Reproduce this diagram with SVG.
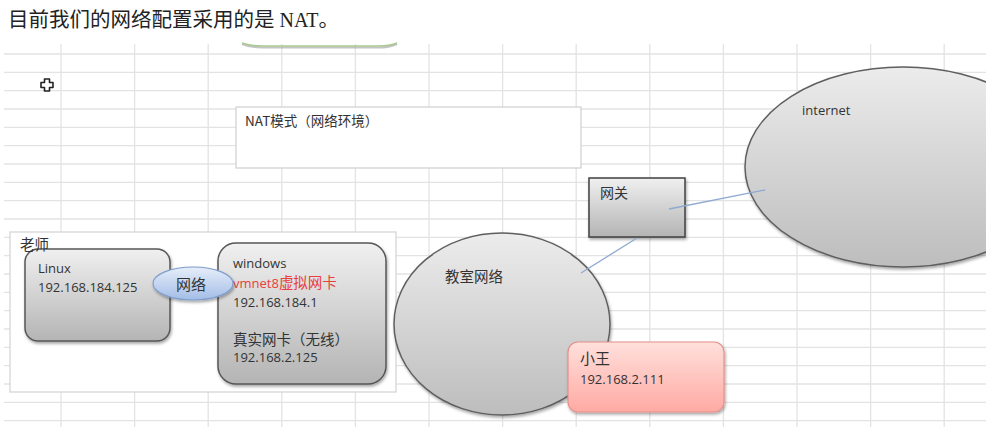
<svg xmlns="http://www.w3.org/2000/svg" width="995" height="433" viewBox="0 0 995 433">
<style>
.grid line{stroke:#e3e3e3;stroke-width:1.3}
.lat{font-family:"Open Sans","Liberation Sans","Noto Sans CJK SC",sans-serif;font-size:13px;fill:#333}
.cjk{font-family:"Noto Sans CJK SC","Noto Sans",sans-serif;font-size:14.5px;fill:#333}
.conn line{stroke:#8eaad2;stroke-width:1.3}
.gbox{fill:url(#gray);stroke:#575757;stroke-width:1.5;filter:url(#sh)}
</style>
<defs>
<linearGradient id="gray" x1="0" y1="0" x2="0" y2="1"><stop offset="0" stop-color="#f0f0f0"/><stop offset="1" stop-color="#b4b4b4"/></linearGradient>
<linearGradient id="grayE" x1="0" y1="0" x2="0" y2="1"><stop offset="0" stop-color="#ececec"/><stop offset="1" stop-color="#bdbdbd"/></linearGradient>
<linearGradient id="blue" x1="0" y1="0" x2="0" y2="1"><stop offset="0" stop-color="#e6eefa"/><stop offset="1" stop-color="#a3bde6"/></linearGradient>
<linearGradient id="pink" x1="0" y1="0" x2="0" y2="1"><stop offset="0" stop-color="#ffe0dc"/><stop offset="1" stop-color="#ffaaa3"/></linearGradient>
<filter id="sh" x="-10%" y="-10%" width="125%" height="130%"><feDropShadow dx="1" dy="2" stdDeviation="1.5" flood-color="#000" flood-opacity="0.35"/></filter>
<clipPath id="clip"><rect x="0" y="0" width="986" height="433"/></clipPath>
</defs>
<rect width="995" height="433" fill="#fff"/>
<g class="grid">
<line x1="4" y1="54" x2="986" y2="54"/><line x1="4" y1="72.3" x2="986" y2="72.3"/><line x1="4" y1="90.7" x2="986" y2="90.7"/><line x1="4" y1="109" x2="986" y2="109"/><line x1="4" y1="127.3" x2="986" y2="127.3"/><line x1="4" y1="145.7" x2="986" y2="145.7"/><line x1="4" y1="164" x2="986" y2="164"/><line x1="4" y1="182.3" x2="986" y2="182.3"/><line x1="4" y1="200.7" x2="986" y2="200.7"/><line x1="4" y1="219" x2="986" y2="219"/><line x1="4" y1="237.3" x2="986" y2="237.3"/><line x1="4" y1="255.7" x2="986" y2="255.7"/><line x1="4" y1="274" x2="986" y2="274"/><line x1="4" y1="292.3" x2="986" y2="292.3"/><line x1="4" y1="310.7" x2="986" y2="310.7"/><line x1="4" y1="329" x2="986" y2="329"/><line x1="4" y1="347.3" x2="986" y2="347.3"/><line x1="4" y1="365.7" x2="986" y2="365.7"/><line x1="4" y1="384" x2="986" y2="384"/><line x1="4" y1="402.3" x2="986" y2="402.3"/><line x1="4" y1="420.7" x2="986" y2="420.7"/>
<line x1="61" y1="44" x2="61" y2="427"/><line x1="134.6" y1="44" x2="134.6" y2="427"/><line x1="208.2" y1="44" x2="208.2" y2="427"/><line x1="281.8" y1="44" x2="281.8" y2="427"/><line x1="355.4" y1="44" x2="355.4" y2="427"/><line x1="429" y1="44" x2="429" y2="427"/><line x1="502.6" y1="44" x2="502.6" y2="427"/><line x1="576.2" y1="44" x2="576.2" y2="427"/><line x1="649.8" y1="44" x2="649.8" y2="427"/><line x1="723.4" y1="44" x2="723.4" y2="427"/><line x1="797" y1="44" x2="797" y2="427"/><line x1="870.6" y1="44" x2="870.6" y2="427"/><line x1="944.2" y1="44" x2="944.2" y2="427"/>
</g>
<text x="8" y="27" style="font-family:'Noto Sans CJK SC',sans-serif;font-size:20.5px;fill:#222">目前我们的网络配置采用的是<tspan style="font-family:'Liberation Serif',serif;font-size:20px"> NAT</tspan>。</text>
<path d="M242,43 Q250,46.5 262,46.5 L378,46.5 Q390,46.5 397,43" fill="none" stroke="#9c9c9c" stroke-width="2" opacity="0.6" transform="translate(0,1)"/>
<path d="M242,43 Q250,46 262,46 L378,46 Q390,46 397,43" fill="none" stroke="#a9c98f" stroke-width="1.6"/>
<path d="M44.5,79 h5 v3.5 h3.5 v5 h-3.5 v3.5 h-5 v-3.5 h-3.5 v-5 h3.5 z" fill="#fff" stroke="#222" stroke-width="1.6" stroke-linejoin="round"/>
<g id="nat"><rect x="236" y="107" width="345" height="61" fill="#fff" stroke="#cfcfcf" stroke-width="1.2"/><text class="cjk" x="245" y="126" style="font-size:13.5px">NAT模式（网络环境）</text></g>
<g id="teacher"><rect x="10" y="232" width="386" height="160" fill="#fff" stroke="#d3d3d3" stroke-width="1.2"/></g>
<g id="linux"><rect class="gbox" x="25" y="249" width="145" height="92" rx="13"/><text class="lat" x="38" y="273">Linux</text><text class="lat" x="38" y="292">192.168.184.125</text></g>
<g id="windows"><rect class="gbox" x="218" y="243" width="168" height="141" rx="18"/><text class="lat" x="233" y="268">windows</text><text class="lat" x="233" y="288" style="fill:#e8403a">vmnet8<tspan style="font-family:'Noto Sans CJK SC',sans-serif;font-size:14.5px">虚拟网卡</tspan></text><text class="lat" x="233" y="307">192.168.184.1</text><text class="cjk" x="233" y="345">真实网卡（无线）</text><text class="lat" x="233" y="362">192.168.2.125</text></g>
<text class="cjk" x="20" y="250" style="font-size:14.5px">老师</text>
<g id="net"><ellipse cx="193" cy="283.5" rx="40" ry="16.5" fill="url(#blue)" stroke="#7f9dcc" stroke-width="1.2" filter="url(#sh)"/><text class="cjk" x="191" y="290" text-anchor="middle" style="font-size:15px">网络</text></g>
<g id="classroom"><ellipse cx="502" cy="324" rx="108" ry="91" fill="url(#grayE)" stroke="#5f5f5f" stroke-width="1.5" filter="url(#sh)"/><text class="cjk" x="445" y="282">教室网络</text></g>
<g id="gateway"><rect class="gbox" x="589" y="178" width="96" height="59" style="stroke:#404040"/><text class="cjk" x="600" y="198" style="font-size:14px">网关</text></g>
<g id="internet" clip-path="url(#clip)"><ellipse cx="903" cy="167" rx="158" ry="100" fill="url(#grayE)" stroke="#5f5f5f" stroke-width="1.5" filter="url(#sh)"/><text class="lat" x="802" y="115">internet</text></g>
<g id="xiaowang"><rect x="568" y="342" width="156" height="70" rx="10" fill="url(#pink)" stroke="#e49089" stroke-width="1.2" filter="url(#sh)"/><text class="cjk" x="580" y="364" style="font-size:15px">小王</text><text class="lat" x="580" y="384">192.168.2.111</text></g>
<g class="conn"><line x1="669" y1="209" x2="765" y2="190"/><line x1="637" y1="238" x2="581" y2="273"/></g>
</svg>
